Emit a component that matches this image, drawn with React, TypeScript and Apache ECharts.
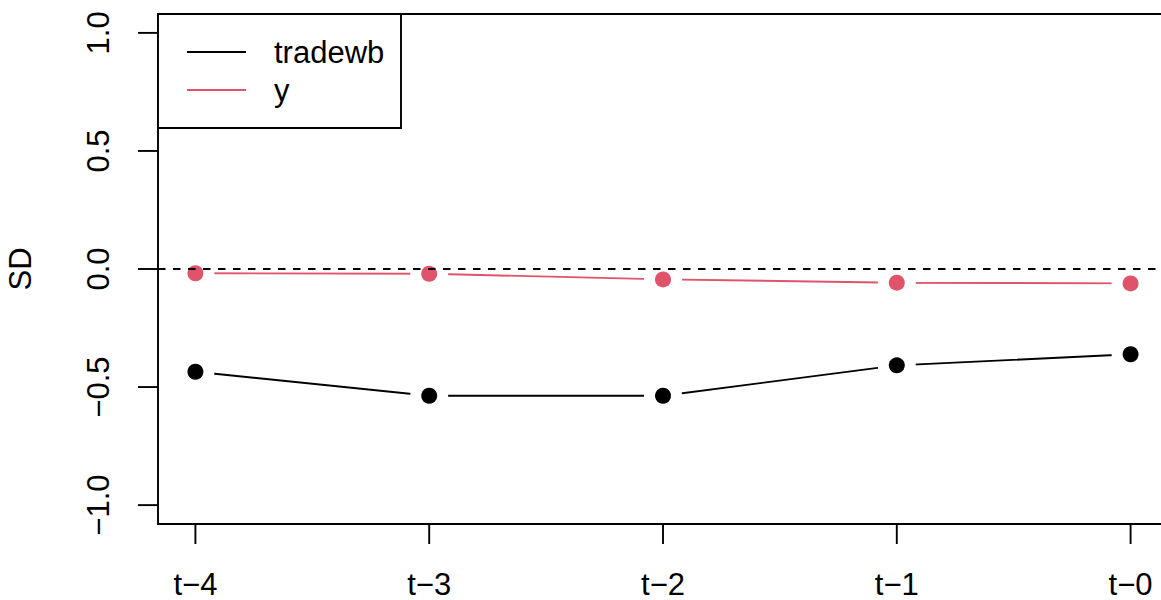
import React, { useEffect, useRef } from "react";
import * as echarts from "echarts";

const categories = ["t−4", "t−3", "t−2", "t−1", "t−0"];
const seriesNames = ["tradewb", "y"];
const tradewb = [-0.435, -0.537, -0.537, -0.408, -0.361];
const yVals = [-0.018, -0.02, -0.044, -0.058, -0.061];
const yTicks = [-1, -0.5, 0, 0.5, 1];
const colors = ["#000000", "#DF536B"];

const FONT = "'Liberation Sans', Arial, sans-serif";
const X_MIN = -0.16;
const X_MAX = 4.16;
const Y_MIN = -1.08;
const Y_MAX = 1.08;

export default function App() {
  const ref = useRef<HTMLDivElement>(null);
  useEffect(() => {
    if (!ref.current) return;
    const chart = echarts.init(ref.current, null, { renderer: "svg" });
    const xIdx = categories.map((_, i) => i);
    const mk = (vals: number[]) => vals.map((v, i) => [i, v]);
    const allSeries = [tradewb, yVals];
    const series: any[] = [];
    allSeries.forEach((vals, k) => {
      series.push({
        type: "line",
        name: seriesNames[k],
        data: mk(vals),
        showSymbol: false,
        lineStyle: { color: colors[k], width: 1.9 },
        z: 2,
        silent: true,
      });
      series.push({
        type: "scatter",
        data: mk(vals),
        symbol: "circle",
        symbolSize: 38,
        itemStyle: { color: "#ffffff", opacity: 1 },
        z: 3,
        silent: true,
      });
      series.push({
        type: "scatter",
        data: mk(vals),
        symbol: "circle",
        symbolSize: 16,
        itemStyle: { color: colors[k], opacity: 1 },
        z: 4,
        silent: true,
      });
    });
    series.push({
      type: "line",
      data: [],
      z: 5,
      markLine: {
        silent: true,
        symbol: ["none", "none"],
        label: { show: false },
        lineStyle: { color: "#000", type: [7.5, 7.5], width: 1.9 },
        data: [{ yAxis: 0 }],
      },
    });
    // x-axis ticks
    series.push({
      type: "custom",
      silent: true,
      clip: false,
      z: 6,
      data: xIdx.map((i) => [i]),
      renderItem: (_p: any, api: any) => {
        const p = api.coord([api.value(0), Y_MIN]);
        return {
          type: "line",
          shape: { x1: p[0], y1: p[1], x2: p[0], y2: p[1] + 20 },
          style: { stroke: "#000", lineWidth: 1.9 },
        };
      },
    });
    // y-axis ticks
    series.push({
      type: "custom",
      silent: true,
      clip: false,
      z: 6,
      data: yTicks.map((v) => [X_MIN, v]),
      renderItem: (_p: any, api: any) => {
        const p = api.coord([X_MIN, api.value(1)]);
        return {
          type: "line",
          shape: { x1: p[0] - 20, y1: p[1], x2: p[0], y2: p[1] },
          style: { stroke: "#000", lineWidth: 1.9 },
        };
      },
    });

    const legendItems: any[] = [];
    seriesNames.forEach((n, k) => {
      const cy = 52 + k * 38;
      legendItems.push({
        type: "line",
        shape: { x1: 187, y1: cy, x2: 246, y2: cy },
        style: { stroke: colors[k], lineWidth: 1.9 },
        z: 10,
      });
      legendItems.push({
        type: "text",
        x: 274,
        y: cy,
        style: {
          text: n,
          fill: "#000",
          font: `31px ${FONT}`,
          textVerticalAlign: "middle",
          textAlign: "left",
        },
        z: 10,
      });
    });

    chart.setOption({
      animation: false,
      backgroundColor: "#ffffff",
      grid: {
        left: 158,
        top: 14,
        width: 1010,
        height: 510,
        show: true,
        borderColor: "#000",
        borderWidth: 1.9,
        backgroundColor: "transparent",
        containLabel: false,
        outerBoundsMode: "none",
      },
      xAxis: {
        type: "value",
        min: X_MIN,
        max: X_MAX,
        axisLine: { show: false },
        splitLine: { show: false },
        axisTick: { show: false },
        axisLabel: {
          show: true,
          customValues: xIdx,
          formatter: (v: number) => categories[Math.round(v)] ?? "",
          color: "#000",
          fontSize: 31,
          lineHeight: 26,
          fontFamily: FONT,
          margin: 47,
        },
      },
      yAxis: {
        type: "value",
        min: Y_MIN,
        max: Y_MAX,
        name: "SD",
        nameLocation: "middle",
        nameRotate: 90,
        nameGap: 122,
        nameTextStyle: { color: "#000", fontSize: 31, fontFamily: FONT },
        axisLine: { show: false },
        splitLine: { show: false },
        axisTick: { show: false },
        axisLabel: {
          show: true,
          customValues: yTicks,
          rotate: 90,
          formatter: (v: number) => v.toFixed(1).replace("-", "−"),
          color: "#000",
          fontSize: 31,
          fontFamily: FONT,
          margin: 44,
        },
      },
      graphic: [
        {
          type: "rect",
          shape: { x: 158, y: 14, width: 243, height: 114 },
          style: { fill: "#ffffff", stroke: "#000", lineWidth: 1.9 },
          z: 9,
        },
        ...legendItems,
      ],
      series,
    });
    return () => chart.dispose();
  }, []);
  return <div ref={ref} style={{ width: 1161, height: 600, position: "absolute", left: 0, top: 0 }} />;
}
